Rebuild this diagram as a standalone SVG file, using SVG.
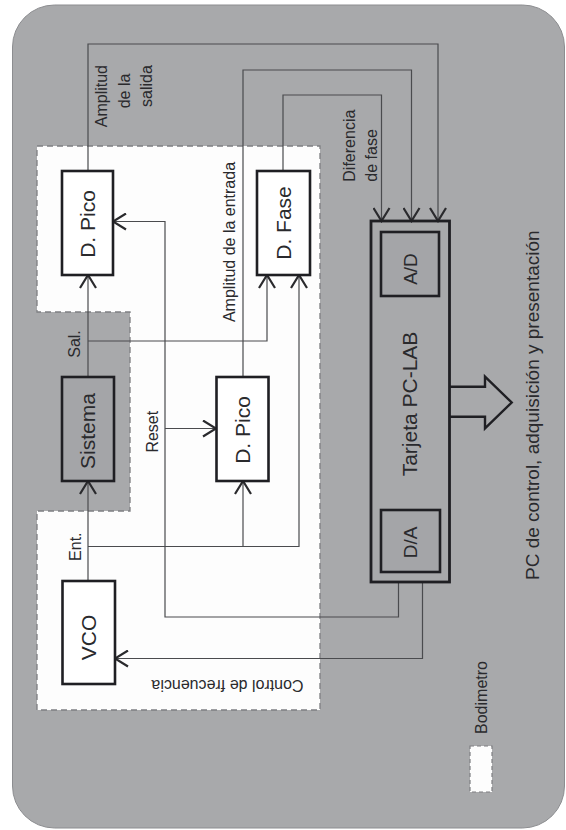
<svg xmlns="http://www.w3.org/2000/svg" width="566" height="830" viewBox="0 0 566 830">
<style>
.bg{fill:#a8a9ab;stroke:#8c8d90;stroke-width:1}
.zone{fill:#fdfdfd;stroke:#7e7f82;stroke-width:1.3;stroke-dasharray:6 4}
.box{fill:#ffffff;stroke:#1f1f23;stroke-width:2.6}
.gbox{fill:#a4a5a8;stroke:#1f1f23;stroke-width:2.6}
.conn{fill:none;stroke:#4a4b4e;stroke-width:1.2}
.arr{marker-end:url(#ah)}
.lbl{font-family:"Liberation Sans",Arial,sans-serif;fill:#2a2a2d}
.big{font-size:21px}
.mid{font-size:19px}
.sm{font-size:16px}
</style>
<defs>
<marker id="ah" viewBox="0 0 16 18" markerUnits="userSpaceOnUse" markerWidth="16" markerHeight="18" refX="14" refY="9" orient="auto">
<path d="M1,1 L14,9 L1,17" fill="none" stroke="#2a2a2d" stroke-width="2.2"/>
</marker>
</defs>
<rect class="bg" x="12.5" y="5" width="552" height="823" rx="42" ry="42"/>
<path class="zone" d="M37,146 H320 V710 H37 V511 H130 V312 H37 Z"/>
<rect x="470" y="746" width="22" height="46" fill="#fdfdfd" stroke="#7e7f82" stroke-width="1.2" stroke-dasharray="4 3"/>

<g id="connectors">
<path class="conn arr" d="M88,171 V44 H438 V221"/>
<path class="conn arr" d="M243,377 V70 H411.5 V221"/>
<path class="conn arr" d="M283,171 V95 H381.5 V221"/>
<path class="conn arr" d="M88,377 V275"/>
<path class="conn arr" d="M88,341 H267 V275"/>
<path class="conn arr" d="M88,581 V481"/>
<path class="conn arr" d="M88,546.5 H299 V275"/>
<path class="conn arr" d="M243,546.5 V481"/>
<path class="conn arr" d="M398.5,582 V617 H165 V221.5 H113"/>
<path class="conn arr" d="M165,428.5 H216"/>
<path class="conn arr" d="M422.5,582 V658.5 H115"/>
<path d="M449.5,386.7 H485 V376.7 L511.7,402.5 L485,428.3 V416.7 H449.5" fill="#a8a9ab" stroke="#1f1f23" stroke-width="2.4" stroke-linejoin="miter"/>
</g>

<g id="dpico1">
<rect class="box" x="62" y="171" width="51" height="104"/>
<text class="lbl big" text-anchor="middle" transform="translate(87.5,224) rotate(-90)" dy="0.35em">D. Pico</text>
</g>
<g id="sistema">
<rect class="gbox" x="62" y="377" width="52" height="104"/>
<text class="lbl big" text-anchor="middle" transform="translate(88,431) rotate(-90)" dy="0.35em">Sistema</text>
</g>
<g id="dpico2">
<rect class="box" x="216.5" y="377" width="52" height="104"/>
<text class="lbl big" text-anchor="middle" transform="translate(242.5,430) rotate(-90)" dy="0.35em">D. Pico</text>
</g>
<g id="dfase">
<rect class="box" x="257" y="171" width="53" height="104"/>
<text class="lbl big" text-anchor="middle" transform="translate(283.5,223) rotate(-90)" dy="0.35em">D. Fase</text>
</g>
<g id="vco">
<rect class="box" x="62.5" y="581" width="52.5" height="103"/>
<text class="lbl big" text-anchor="middle" transform="translate(88.7,637.5) rotate(-90)" dy="0.35em">VCO</text>
</g>
<g id="tarjeta">
<rect x="371" y="221" width="78.5" height="361" fill="none" stroke="#1f1f23" stroke-width="2.8"/>
<text class="lbl big" text-anchor="middle" transform="translate(416.5,404) rotate(-90)">Tarjeta PC-LAB</text>
</g>
<g id="ad">
<rect class="gbox" x="381" y="232" width="58" height="64"/>
<text class="lbl mid" text-anchor="middle" transform="translate(410,269) rotate(-90)" dy="0.35em">A/D</text>
</g>
<g id="da">
<rect class="gbox" x="381" y="510" width="59" height="62"/>
<text class="lbl mid" text-anchor="middle" transform="translate(410.5,542.5) rotate(-90)" dy="0.35em">D/A</text>
</g>

<g id="labels">
<text class="lbl sm" text-anchor="end" transform="translate(106.5,65) rotate(-90)">Amplitud</text>
<text class="lbl sm" text-anchor="middle" transform="translate(130,91) rotate(-90)">de la</text>
<text class="lbl sm" text-anchor="middle" transform="translate(151.5,86) rotate(-90)">salida</text>
<text class="lbl sm" text-anchor="middle" transform="translate(234.5,242) rotate(-90)">Amplitud de la entrada</text>
<text class="lbl sm" text-anchor="start" transform="translate(355,181.7) rotate(-90)">Diferencia</text>
<text class="lbl sm" text-anchor="start" transform="translate(376.5,181.7) rotate(-90)">de fase</text>
<text class="lbl sm" text-anchor="middle" transform="translate(80,344) rotate(-90)">Sal.</text>
<text class="lbl sm" text-anchor="middle" transform="translate(158,431.7) rotate(-90)">Reset</text>
<text class="lbl sm" text-anchor="middle" transform="translate(81,546.7) rotate(-90)">Ent.</text>
<text class="lbl sm" text-anchor="middle" transform="translate(227.5,680.2) rotate(180)">Control de frecuencia</text>
<text class="lbl sm" text-anchor="middle" transform="translate(486.7,697.5) rotate(-90)">Bodimetro</text>
<text class="lbl mid" text-anchor="start" transform="translate(539,580) rotate(-90)">PC de control, adquisición y presentación</text>
</g>
</svg>
